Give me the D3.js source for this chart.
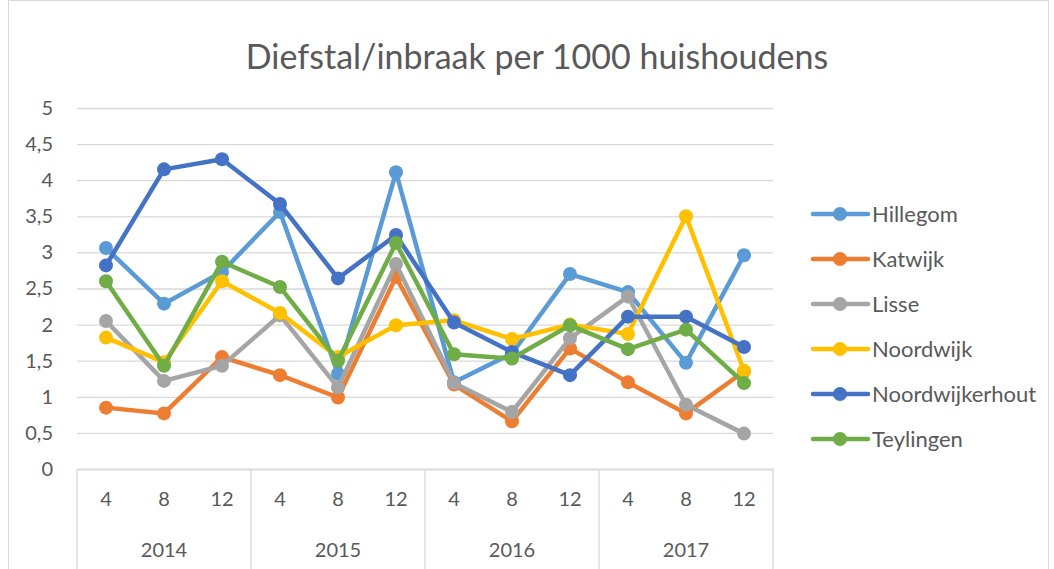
<!DOCTYPE html>
<html>
<head>
<meta charset="utf-8">
<script src="https://cdn.jsdelivr.net/npm/d3@7"></script>
<style>
	body { margin: 0; background: #fff; }
	text { font-family: Lato, "Open Sans", sans-serif; fill: #595959; }
</style>
</head>
<body>
<div id="chart"></div>
<script>
(function() {
	var width = 1054,
		height = 569;

	// chart data
	var years = ["2014", "2015", "2016", "2017"];
	var months = ["4", "8", "12"];
	var gemeenten = ["Hillegom", "Katwijk", "Lisse", "Noordwijk", "Noordwijkerhout", "Teylingen"];
	var hillegom        = [3.06, 2.29, 2.73, 3.56, 1.32, 4.11, 1.20, 1.60, 2.70, 2.45, 1.47, 2.96];
	var katwijk         = [0.85, 0.77, 1.55, 1.30, 0.99, 2.66, 1.17, 0.66, 1.67, 1.20, 0.77, 1.35];
	var lisse           = [2.05, 1.22, 1.43, 2.13, 1.13, 2.84, 1.19, 0.79, 1.81, 2.39, 0.89, 0.49];
	var noordwijk       = [1.82, 1.48, 2.60, 2.16, 1.55, 1.99, 2.06, 1.80, 2.00, 1.87, 3.50, 1.36];
	var noordwijkerhout = [2.82, 4.15, 4.29, 3.67, 2.64, 3.24, 2.03, 1.62, 1.30, 2.11, 2.11, 1.69];
	var teylingen       = [2.60, 1.43, 2.87, 2.52, 1.50, 3.13, 1.59, 1.53, 1.99, 1.66, 1.93, 1.19];
	var yTicks = [0, 0.5, 1, 1.5, 2, 2.5, 3, 3.5, 4, 4.5, 5];

	var seriesValues = [hillegom, katwijk, lisse, noordwijk, noordwijkerhout, teylingen];
	var colors = ["#5B9BD5", "#ED7D31", "#A5A5A5", "#FFC000", "#4472C4", "#70AD47"];

	// category keys like "2014-4"
	var categories = [];
	years.forEach(function(y) {
		months.forEach(function(m) { categories.push(y + "-" + m); });
	});

	var series = gemeenten.map(function(name, i) {
		return { name: name, color: colors[i], values: seriesValues[i] };
	});

	var plot = { left: 77, right: 773, top: 108, bottom: 469 };

	var svg = d3.select("#chart")
		.append("svg")
		.attr("width", width)
		.attr("height", height);

	// chart area border
	svg.append("rect")
		.attr("x", 8.5).attr("y", 0.5)
		.attr("width", 1040).attr("height", 600)
		.attr("fill", "none")
		.attr("stroke", "#d9d9d9");

	var x = d3.scaleBand().domain(categories).range([plot.left, plot.right]);
	var xYear = d3.scaleBand().domain(years).range([plot.left, plot.right]);
	var y = d3.scaleLinear().domain([0, 5]).range([plot.bottom, plot.top]);

	var nl = d3.formatLocale({ decimal: ",", thousands: ".", grouping: [3], currency: ["€", ""] });
	var fmt = nl.format("~g");

	// title
	svg.append("text")
		.attr("x", 537)
		.attr("y", 69)
		.attr("text-anchor", "middle")
		.style("font-size", "34px")
		.text("Diefstal/inbraak per 1000 huishoudens");

	// y axis + gridlines
	var yAxis = svg.append("g")
		.attr("transform", "translate(" + plot.left + ",0)")
		.call(d3.axisLeft(y).tickValues(yTicks).tickFormat(fmt)
			.tickSize(-(plot.right - plot.left)).tickPadding(24));
	yAxis.select(".domain").remove();
	yAxis.selectAll(".tick line").attr("stroke", "#d9d9d9").attr("stroke-width", 1.3);
	yAxis.selectAll(".tick text")
		.style("font-size", "20px")
		.style("fill", "#595959");

	// category axis: months
	var xAxis = svg.append("g")
		.attr("transform", "translate(0," + plot.bottom + ")")
		.call(d3.axisBottom(x).tickSize(0).tickPadding(23)
			.tickFormat(function(d) { return d.split("-")[1]; }));
	xAxis.select(".domain").attr("stroke", "#d9d9d9").attr("stroke-width", 1.3);
	xAxis.selectAll(".tick text")
		.style("font-size", "20px")
		.style("fill", "#595959");

	// year labels
	svg.append("g").selectAll("text")
		.data(years)
		.enter().append("text")
		.attr("x", function(d) { return xYear(d) + xYear.bandwidth() / 2; })
		.attr("y", 557)
		.attr("text-anchor", "middle")
		.style("font-size", "20px")
		.text(function(d) { return d; });

	// year separators
	var bounds = years.map(function(d) { return xYear(d); }).concat([plot.right]);
	svg.append("g").selectAll("line")
		.data(bounds)
		.enter().append("line")
		.attr("x1", function(d) { return d; })
		.attr("x2", function(d) { return d; })
		.attr("y1", plot.bottom)
		.attr("y2", height)
		.attr("stroke", "#d9d9d9")
		.attr("stroke-width", 1.3);

	// lines
	var line = d3.line()
		.x(function(d, i) { return x(categories[i]) + x.bandwidth() / 2; })
		.y(function(d) { return y(d); });

	var g = svg.selectAll(".serie")
		.data(series)
		.enter().append("g")
		.attr("class", "serie");

	g.append("path")
		.attr("d", function(d) { return line(d.values); })
		.attr("fill", "none")
		.attr("stroke", function(d) { return d.color; })
		.attr("stroke-width", 4.5)
		.attr("stroke-linejoin", "round");

	g.selectAll("circle")
		.data(function(d) { return d.values.map(function(v, i) { return { v: v, i: i, color: d.color }; }); })
		.enter().append("circle")
		.attr("cx", function(d) { return x(categories[d.i]) + x.bandwidth() / 2; })
		.attr("cy", function(d) { return y(d.v); })
		.attr("r", 7)
		.attr("fill", function(d) { return d.color; });

	// legend
	var legend = svg.append("g").selectAll("g")
		.data(series)
		.enter().append("g")
		.attr("transform", function(d, i) { return "translate(813," + (214 + i * 45) + ")"; });

	legend.append("line")
		.attr("x1", 0).attr("x2", 55)
		.attr("stroke", function(d) { return d.color; })
		.attr("stroke-width", 4.5)
		.attr("stroke-linecap", "round");
	legend.append("circle")
		.attr("cx", 27).attr("r", 7)
		.attr("fill", function(d) { return d.color; });
	legend.append("text")
		.attr("x", 59)
		.attr("dy", "0.35em")
		.style("font-size", "22px")
		.text(function(d) { return d.name; });
})();
</script>
</body>
</html>
